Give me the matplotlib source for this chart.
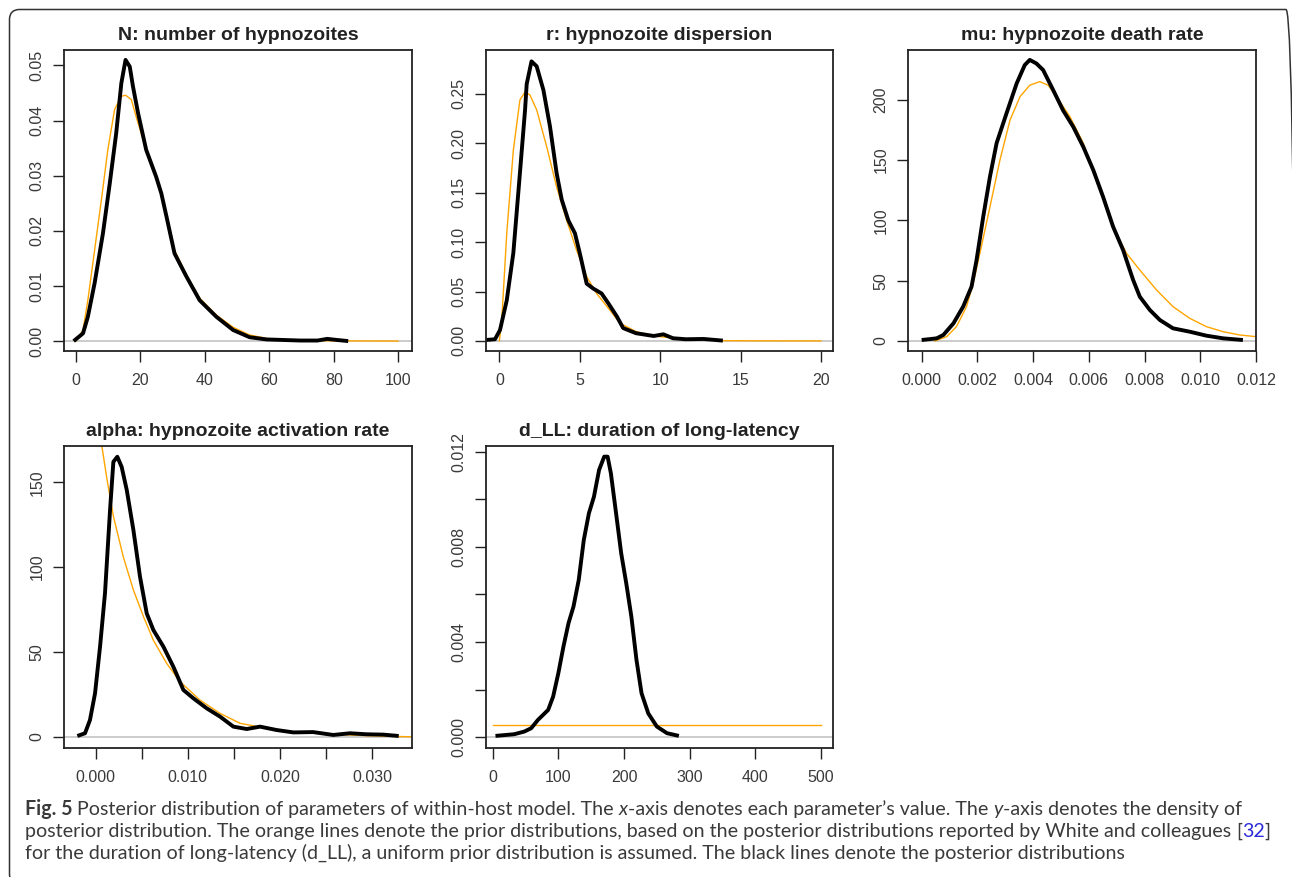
import numpy as np
import matplotlib
matplotlib.use("Agg")
import matplotlib.pyplot as plt
from matplotlib.font_manager import FontProperties
from matplotlib.patches import FancyBboxPatch

W, H = 1292, 877

# ---------------- data ----------------
titles = ["N: number of hypnozoites", "r: hypnozoite dispersion", "mu: hypnozoite death rate",
          "alpha: hypnozoite activation rate", "d_LL: duration of long-latency"]

# Panel 1: N
n_post_x = [-0.7, 2.2, 3.7, 5.8, 8.4, 10.5, 12.5, 14.1, 15.4, 16.7, 17.7, 19.3, 21.8, 24.9, 26.5,
            28.1, 30.6, 34.3, 38.4, 43.6, 48.8, 53.9, 59.1, 64.3, 69.5, 75.0, 78.0, 81.0, 84.5]
n_post_y = [0.0, 0.0014, 0.0044, 0.0105, 0.0196, 0.0286, 0.0377, 0.0468, 0.0510, 0.0498, 0.0462,
            0.0413, 0.0347, 0.0298, 0.0268, 0.0226, 0.0159, 0.0117, 0.0074, 0.0044, 0.0020, 0.0007,
            0.0003, 0.0002, 0.0001, 0.0001, 0.0004, 0.0002, 0.0]
n_prior_x = [0.0, 0.3, 2.2, 3.7, 5.8, 7.9, 9.9, 12.0, 14.1, 15.4, 17.2, 18.7, 21.8, 24.9, 28.1,
             30.6, 34.3, 38.4, 43.6, 48.8, 53.9, 60.0, 70.0, 80.0, 90.0, 100.0]
n_prior_y = [0.0, 0.0002, 0.0020, 0.0074, 0.0165, 0.0256, 0.0347, 0.0420, 0.0444, 0.0446, 0.0438,
             0.0407, 0.0347, 0.0300, 0.0230, 0.0165, 0.0120, 0.0078, 0.0047, 0.0025, 0.0011,
             0.0004, 0.0001, 0.00005, 0.00002, 0.0]

# Panel 2: r
r_post_x = [-0.79, -0.27, 0.04, 0.46, 0.87, 1.28, 1.6, 1.7, 2.0, 2.32, 2.74, 3.15, 3.56, 3.88, 4.29,
            4.7, 5.0, 5.43, 5.84, 6.36, 6.78, 7.3, 7.7, 8.5, 9.6, 10.2, 10.8, 11.6, 12.7, 13.9]
r_post_y = [0.001, 0.0017, 0.011, 0.041, 0.089, 0.17, 0.234, 0.26, 0.283, 0.278, 0.254, 0.217, 0.17,
            0.143, 0.122, 0.109, 0.089, 0.058, 0.053, 0.048, 0.038, 0.025, 0.013, 0.0078, 0.005,
            0.0067, 0.0027, 0.0017, 0.002, 0.0003]
r_prior_x = [0.0, 0.15, 0.46, 0.87, 1.28, 1.6, 1.9, 2.32, 2.94, 3.56, 4.19, 4.8, 5.43, 6.05, 6.88,
             7.5, 8.5, 9.6, 11.6, 13.7, 16.0, 20.0]
r_prior_y = [0.0, 0.021, 0.109, 0.193, 0.244, 0.252, 0.249, 0.234, 0.197, 0.156, 0.122, 0.092, 0.065,
             0.048, 0.031, 0.018, 0.0094, 0.005, 0.0017, 0.0003, 0.0001, 0.0]

# Panel 3: mu
mu_post_x = [0.0, 0.00054, 0.00078, 0.00114, 0.00149, 0.00179, 0.00197, 0.00221, 0.00245, 0.00269,
             0.00305, 0.00341, 0.0037, 0.00388, 0.00412, 0.00436, 0.00472, 0.00508, 0.00544,
             0.0058, 0.00616, 0.00651, 0.00687, 0.00723, 0.00759, 0.00783, 0.00819, 0.00855,
             0.00902, 0.00962, 0.01022, 0.01082, 0.01153]
mu_post_y = [0.8, 2.2, 5.0, 14.6, 28.5, 45.0, 67.0, 103.0, 136.0, 164.0, 189.0, 213.5, 228.7, 233.0,
             230.0, 224.6, 208.0, 191.0, 177.6, 161.0, 141.7, 119.6, 94.8, 75.4, 50.6, 36.7, 25.7,
             17.4, 10.5, 7.7, 4.4, 2.2, 0.8]
mu_prior_x = [0.00048, 0.0009, 0.00125, 0.00161, 0.00185, 0.00209, 0.00245, 0.00281, 0.00317,
              0.00353, 0.00388, 0.00424, 0.00454, 0.00484, 0.00532, 0.0058, 0.00627, 0.00663,
              0.00699, 0.00735, 0.00783, 0.00843, 0.00902, 0.00962, 0.01022, 0.01082, 0.01141,
              0.0120]
mu_prior_y = [0.0, 3.6, 11.9, 28.5, 47.8, 72.7, 111.0, 150.0, 183.0, 202.5, 212.0, 215.0, 212.0,
              202.5, 186.0, 164.0, 133.0, 111.0, 89.0, 72.7, 58.8, 42.3, 28.5, 18.8, 11.9, 7.7,
              5.0, 3.6]

# Panel 4: alpha
al_post_x = [-0.00199, -0.00116, -0.00062, -0.00007, 0.00047, 0.00101, 0.00156, 0.00192, 0.00235,
             0.00282, 0.00337, 0.00409, 0.00481, 0.00554, 0.00626, 0.00735, 0.00843, 0.00952,
             0.0106, 0.01205, 0.0135, 0.01495, 0.0164, 0.01784, 0.01965, 0.02146, 0.0236, 0.0258,
             0.0276, 0.0294, 0.0312, 0.0329]
al_post_y = [0.6, 2.2, 10.0, 25.7, 53.0, 84.6, 133.7, 162.0, 165.0, 159.0, 145.5, 122.0, 94.4, 72.8,
             63.0, 53.2, 41.4, 27.7, 22.8, 16.9, 12.0, 6.1, 4.7, 6.1, 4.1, 2.7, 2.9, 1.2, 2.2, 1.6,
             1.4, 0.6]
al_prior_x = [0.0003, 0.00065, 0.00119, 0.00192, 0.0030, 0.00409, 0.00518, 0.00626, 0.0077, 0.00916,
              0.0113, 0.0135, 0.0157, 0.0186, 0.0222, 0.0258, 0.0294, 0.0343]
al_prior_y = [195.0, 172.0, 153.0, 130.0, 106.0, 86.6, 71.0, 57.0, 43.4, 32.6, 21.8, 13.9, 8.0, 5.1,
              2.7, 1.6, 0.8, 0.1]

# Panel 5: d_LL
d_post_x = [4.1, 32.6, 48.0, 58.5, 68.8, 84.4, 92.0, 99.9, 107.7, 115.4, 123.0, 131.0, 138.7, 146.5,
            154.2, 162.0, 169.8, 175.0, 180.0, 187.9, 195.7, 203.4, 211.2, 219.0, 226.7, 237.0,
            250.0, 265.5, 283.6]
d_post_y = [0.000056, 0.000126, 0.000238, 0.000378, 0.000728, 0.001148, 0.00171, 0.00269, 0.00381,
            0.00479, 0.00549, 0.00661, 0.00829, 0.00941, 0.01011, 0.01123, 0.01179, 0.01179,
            0.01109, 0.00941, 0.00773, 0.00647, 0.00507, 0.00325, 0.00185, 0.0010, 0.00045,
            0.00017, 0.000056]
d_prior_x = [0.0, 500.0]
d_prior_y = [0.000504, 0.000504]

panels = [
    dict(post=(n_post_x, n_post_y), prior=(n_prior_x, n_prior_y),
         xlim=(-3.7, 104.3), ylim=(-0.0018, 0.0528),
         xt=[0, 20, 40, 60, 80, 100], xl=["0", "20", "40", "60", "80", "100"],
         yt=[0, 0.01, 0.02, 0.03, 0.04, 0.05], yl=["0.00", "0.01", "0.02", "0.03", "0.04", "0.05"]),
    dict(post=(r_post_x, r_post_y), prior=(r_prior_x, r_prior_y),
         xlim=(-0.83, 20.75), ylim=(-0.0102, 0.2945),
         xt=[0, 5, 10, 15, 20], xl=["0", "5", "10", "15", "20"],
         yt=[0, 0.05, 0.10, 0.15, 0.20, 0.25], yl=["0.00", "0.05", "0.10", "0.15", "0.20", "0.25"]),
    dict(post=(mu_post_x, mu_post_y), prior=(mu_prior_x, mu_prior_y),
         xlim=(-0.00049, 0.0120), ylim=(-8.3, 241.2),
         xt=[0, 0.002, 0.004, 0.006, 0.008, 0.010, 0.012],
         xl=["0.000", "0.002", "0.004", "0.006", "0.008", "0.010", "0.012"],
         yt=[0, 50, 100, 150, 200], yl=["0", "50", "100", "150", "200"]),
    dict(post=(al_post_x, al_post_y), prior=(al_prior_x, al_prior_y),
         xlim=(-0.00344, 0.03434), ylim=(-6.3, 171.5),
         xt=[0, 0.005, 0.010, 0.015, 0.020, 0.025, 0.030],
         xl=["0.000", "", "0.010", "", "0.020", "", "0.030"],
         yt=[0, 50, 100, 150], yl=["0", "50", "100", "150"]),
    dict(post=(d_post_x, d_post_y), prior=(d_prior_x, d_prior_y),
         xlim=(-9.9, 519.0), ylim=(-0.00044, 0.01225),
         xt=[0, 100, 200, 300, 400, 500], xl=["0", "100", "200", "300", "400", "500"],
         yt=[0, 0.002, 0.004, 0.006, 0.008, 0.010, 0.012],
         yl=["0.000", "", "0.004", "", "0.008", "", "0.012"]),
]

# axes boxes in pixels: (left, top, right, bottom)
boxes = [(64, 50, 412, 351), (486, 50, 833, 351), (908, 50, 1256, 351),
         (64, 445.7, 412, 747.7), (486.3, 445.7, 833.3, 747.7)]

caption_lines = [
    [("Fig. 5 ", "bold"), ("Posterior distribution of parameters of within-host model. The ", "normal"),
     ("x", "italic"), ("-axis denotes each parameter\u2019s value. The ", "normal"), ("y", "italic"),
     ("-axis denotes the density of", "normal")],
    [("posterior distribution. The orange lines denote the prior distributions, based on the "
      "posterior distributions reported by White and colleagues ", "normal"),
     ("[", "normal"), ("32", "blue"), ("]", "normal")],
    [("for the duration of long-latency (d_LL), a uniform prior distribution is assumed. "
      "The black lines denote the posterior distributions", "normal")],
]

# ---------------- drawing ----------------
plt.rcParams["font.family"] = ["Liberation Sans", "DejaVu Sans"]
fig = plt.figure(figsize=(W / 100, H / 100), dpi=100)
fig.patch.set_facecolor("white")

# rounded frame
frame = FancyBboxPatch((9.5 / 100, (H - 884) / 100), (1296 - 9.5) / 100, (884 - 9.5) / 100,
                       boxstyle="round,pad=0,rounding_size=0.1", transform=fig.dpi_scale_trans,
                       facecolor="none", edgecolor="#333333", linewidth=1.1, clip_on=False)
fig.patches.append(frame)

for p, t, b in zip(panels, titles, boxes):
    l, tp, r_, bt = b
    ax = fig.add_axes([l / W, 1 - bt / H, (r_ - l) / W, (bt - tp) / H])
    ax.axhline(0, color="#bebebe", lw=1.1, zorder=1)
    ax.plot(p["prior"][0], p["prior"][1], color="#FFA500", lw=1.0, zorder=2)
    ax.plot(p["post"][0], p["post"][1], color="black", lw=2.8, zorder=3,
            solid_joinstyle="round", solid_capstyle="butt")
    ax.set_xlim(*p["xlim"])
    ax.set_ylim(*p["ylim"])
    ax.set_xticks(p["xt"])
    ax.set_xticklabels(p["xl"])
    ax.set_yticks(p["yt"])
    ax.set_yticklabels(p["yl"], rotation=90, va="center")
    ax.tick_params(direction="out", length=8, width=1.0, color="#222222",
                   labelsize=11.5, labelcolor="#3a3a3a")
    ax.tick_params(axis="x", pad=8)
    ax.tick_params(axis="y", pad=6)
    for s in ax.spines.values():
        s.set_linewidth(1.3)
        s.set_color("#222222")
    ax.set_title(t, fontsize=14, fontweight="bold", color="#222222", pad=7)

# caption
fig.canvas.draw()
rend = fig.canvas.get_renderer()
cap_family = ["Lato", "DejaVu Sans"]


def fprop(style, size):
    if style == "bold":
        return FontProperties(family=cap_family, weight="bold", size=size)
    if style == "italic":
        return FontProperties(family=cap_family, style="italic", size=size)
    return FontProperties(family=cap_family, size=size)


def adv(s, fp):
    w1, _, _ = rend.get_text_width_height_descent("|" + s + "|", fp, ismath=False)
    w0, _, _ = rend.get_text_width_height_descent("||", fp, ismath=False)
    return w1 - w0


base = 12.0
tot = sum(adv(s, fprop(st, base)) for s, st in caption_lines[0])
size = base * (1237 - 25) / tot

baselines = [815, 837, 859]
for line, yb in zip(caption_lines, baselines):
    x = 25.0
    for s, st in line:
        fp = fprop(st, size)
        col = "#2b2bd9" if st == "blue" else "#3a3a3a"
        fig.text(x / W, 1 - yb / H, s.rstrip(), fontproperties=fp, color=col,
                 ha="left", va="baseline")
        x += adv(s, fp)

fig.savefig("out.png", dpi=100, facecolor="white")
